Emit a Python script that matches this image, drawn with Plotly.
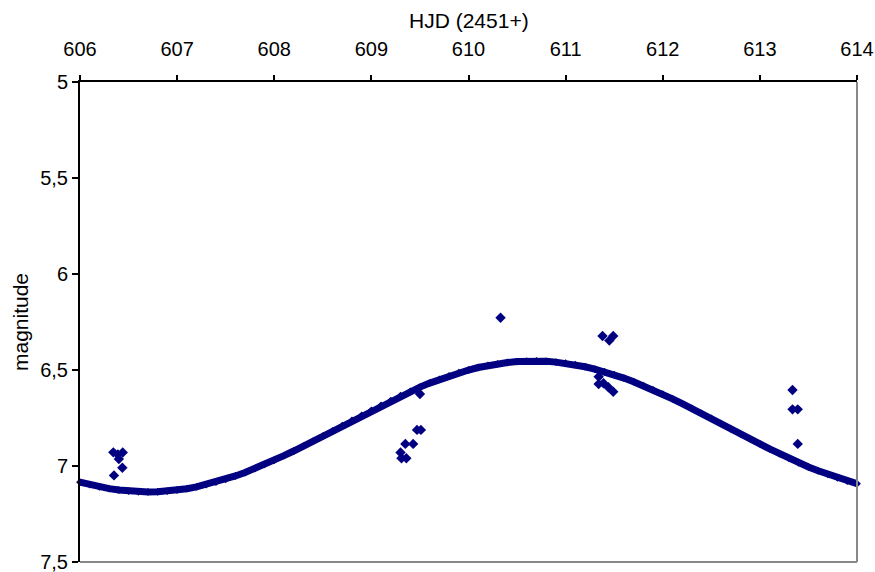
import plotly.graph_objects as go

# Model light curve (HJD - 2451000, magnitude)
curve_hjd = [606.0, 606.1, 606.2, 606.3, 606.4, 606.5, 606.6, 606.7, 606.8, 606.9,
             607.0, 607.1, 607.2, 607.3, 607.4, 607.5, 607.6, 607.7, 607.8, 607.9,
             608.0, 608.1, 608.2, 608.3, 608.4, 608.5, 608.6, 608.7, 608.8, 608.9,
             609.0, 609.1, 609.2, 609.3, 609.4, 609.5, 609.6, 609.7, 609.8, 609.9,
             610.0, 610.1, 610.2, 610.3, 610.4, 610.5, 610.6, 610.7, 610.8, 610.9,
             611.0, 611.1, 611.2, 611.3, 611.4, 611.5, 611.6, 611.7, 611.8, 611.9,
             612.0, 612.1, 612.2, 612.3, 612.4, 612.5, 612.6, 612.7, 612.8, 612.9,
             613.0, 613.1, 613.2, 613.3, 613.4, 613.5, 613.6, 613.7, 613.8, 613.9,
             614.0]
curve_mag = [7.084, 7.097, 7.109, 7.118, 7.125, 7.131, 7.134, 7.135, 7.134, 7.131,
             7.125, 7.118, 7.109, 7.097, 7.084, 7.069, 7.052, 7.034, 7.014, 6.992,
             6.970, 6.946, 6.922, 6.896, 6.870, 6.844, 6.817, 6.790, 6.763, 6.736,
             6.710, 6.684, 6.659, 6.634, 6.611, 6.589, 6.568, 6.549, 6.531, 6.514,
             6.500, 6.487, 6.476, 6.468, 6.461, 6.456, 6.454, 6.453, 6.455, 6.459,
             6.464, 6.472, 6.483, 6.495, 6.509, 6.524, 6.542, 6.561, 6.581, 6.603,
             6.626, 6.650, 6.675, 6.700, 6.726, 6.752, 6.779, 6.806, 6.833, 6.859,
             6.885, 6.911, 6.936, 6.960, 6.983, 7.005, 7.025, 7.044, 7.062, 7.078,
             7.092]

# Observed points
obs_hjd = [606.343, 606.39, 606.44, 606.40, 606.436, 606.35,
           609.50, 609.47, 609.51, 609.35, 609.43, 609.30, 609.31, 609.36,
           610.33,
           611.38, 611.45, 611.49, 611.34, 611.34, 611.39, 611.44, 611.49,
           613.336, 613.336, 613.39, 613.39]
obs_mag = [6.929, 6.94, 6.930, 6.964, 7.009, 7.049,
           6.625, 6.812, 6.812, 6.885, 6.885, 6.930, 6.960, 6.960,
           6.228,
           6.323, 6.347, 6.323, 6.535, 6.573, 6.569, 6.590, 6.613,
           6.604, 6.705, 6.705, 6.885]

x_ticks = [606, 607, 608, 609, 610, 611, 612, 613, 614]
y_ticks = [5, 5.5, 6, 6.5, 7, 7.5]

NAVY = "#000080"
FONT = "Arial, Liberation Sans, sans-serif"

fig = go.Figure()
fig.add_trace(go.Scatter(x=curve_hjd, y=curve_mag, mode="lines+markers",
                         line=dict(color=NAVY, width=7),
                         marker=dict(symbol="diamond", size=6, color=NAVY),
                         showlegend=False, cliponaxis=False))
fig.add_trace(go.Scatter(x=obs_hjd, y=obs_mag, mode="markers",
                         marker=dict(symbol="diamond", size=8, color=NAVY),
                         showlegend=False))

fig.update_layout(
    width=875, height=572,
    margin=dict(l=80, r=18, t=82, b=10, autoexpand=False),
    paper_bgcolor="white", plot_bgcolor="white",
    separators=", ",
    font=dict(family=FONT, size=20, color="black"),
    xaxis=dict(side="top", range=[606, 614], tickvals=x_ticks,
               ticks="outside", ticklen=5, tickwidth=1.5, tickcolor="black",
               showline=True, linecolor="black", linewidth=2,
               showgrid=False, zeroline=False, ticklabeloverflow="allow",
               tickfont=dict(size=20), ticklabelstandoff=11),
    yaxis=dict(range=[7.5, 5], tickvals=y_ticks,
               ticks="outside", ticklen=6, tickwidth=1.5, tickcolor="black",
               showline=True, linecolor="black", linewidth=2,
               showgrid=False, zeroline=False, ticklabeloverflow="allow",
               tickfont=dict(size=20)),
    shapes=[
        dict(type="line", xref="paper", yref="paper", x0=1, x1=1, y0=0, y1=1,
             line=dict(color="#888888", width=2)),
        dict(type="line", xref="paper", yref="paper", x0=0, x1=1, y0=0, y1=0,
             line=dict(color="#888888", width=2)),
    ],
    annotations=[
        dict(text="HJD (2451+)", xref="paper", yref="paper", x=0.5, y=1.129,
             xanchor="center", yanchor="middle", showarrow=False,
             font=dict(size=21)),
        dict(text="magnitude", xref="paper", yref="paper", x=-0.0772, y=0.5,
             xanchor="center", yanchor="middle", textangle=-90, showarrow=False,
             font=dict(size=21)),
    ],
)

fig.write_html("out.html", config={"displayModeBar": False})

# remove the browser's default page margin so the figure sits at (0, 0)
with open("out.html", "r", encoding="utf-8") as f:
    html = f.read()
html = html.replace("<head>", "<head><style>html,body{margin:0;padding:0;overflow:hidden;}</style>", 1)
with open("out.html", "w", encoding="utf-8") as f:
    f.write(html)
